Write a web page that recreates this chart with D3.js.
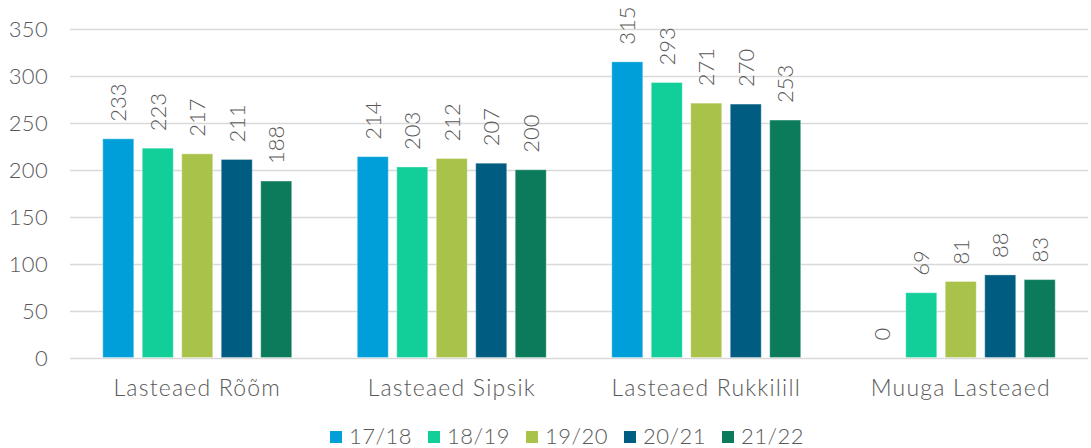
<!DOCTYPE html>
<html><head><meta charset="utf-8">
<script src="https://cdn.jsdelivr.net/npm/d3@7"></script>
<style>body{margin:0;background:#fff}svg{display:block}text{font-family:"Lato","Noto Sans",sans-serif;fill:#595959;font-weight:300}</style>
</head><body>
<svg id="c" width="1091" height="448"></svg>
<script>
const categories = ["Lasteaed Rõõm","Lasteaed Sipsik","Lasteaed Rukkilill","Muuga Lasteaed"];
const seriesNames = ["17/18","18/19","19/20","20/21","21/22"];
const s1718 = [233,214,315,0];
const s1819 = [223,203,293,69];
const s1920 = [217,212,271,81];
const s2021 = [211,207,270,88];
const s2122 = [188,200,253,83];
const colors = ["#009FD9","#12CF9A","#A8C24A","#005C80","#0B7B5B"];
const yTicks = [0,50,100,150,200,250,300,350];

const seriesVals = [s1718,s1819,s1920,s2021,s2122];
const svg = d3.select("#c");
const L=70,R=1088,T=29,B=357.5;
const x0 = d3.scaleBand().domain(categories).range([L,R]).padding(0);
const x1 = d3.scaleBand().domain(seriesNames).range([0,x0.bandwidth()]).paddingInner(0.215).paddingOuter(0.83);
const y = d3.scaleLinear().domain([0,350]).range([B,T]);

svg.append("g").selectAll("line").data(yTicks).join("line")
  .attr("x1",L).attr("x2",R).attr("y1",d=>Math.round(y(d))+0.5).attr("y2",d=>Math.round(y(d))+0.5)
  .attr("stroke","#d9d9d9").attr("stroke-width",1.5);
svg.append("g").selectAll("text").data(yTicks).join("text")
  .attr("x",48).attr("y",d=>y(d)+8).attr("text-anchor","end").attr("font-size",22).attr("letter-spacing",0.3).text(d=>d);

const data = [];
categories.forEach((c,i)=>seriesNames.forEach((s,j)=>data.push({c,s,j,v:seriesVals[j][i]})));

svg.append("g").selectAll("rect").data(data.filter(d=>d.v>0)).join("rect")
  .attr("x",d=>x0(d.c)+x1(d.s)).attr("width",x1.bandwidth())
  .attr("y",d=>y(d.v)).attr("height",d=>B-y(d.v))
  .attr("fill",d=>colors[d.j]).attr("stroke","rgba(255,255,255,0.35)").attr("stroke-width",1);

svg.append("g").selectAll("text").data(data).join("text")
  .attr("transform",d=>`translate(${x0(d.c)+x1(d.s)+x1.bandwidth()/2+8},${y(d.v)-17}) rotate(-90)`)
  .attr("font-size",22).attr("text-anchor","start").text(d=>d.v);

svg.append("g").selectAll("text").data(categories).join("text")
  .attr("x",d=>x0(d)+x0.bandwidth()/2).attr("y",396).attr("text-anchor","middle").attr("font-size",23).attr("letter-spacing",1.2).text(d=>d);

const lg = svg.append("g").selectAll("g").data(seriesNames).join("g")
  .attr("transform",(d,i)=>`translate(${330+i*98},431)`);
lg.append("rect").attr("width",12).attr("height",12).attr("fill",(d,i)=>colors[i]);
lg.append("text").attr("x",19).attr("y",12.5).attr("font-size",22).attr("letter-spacing",0.5).text(d=>d);
</script>
</body></html>
